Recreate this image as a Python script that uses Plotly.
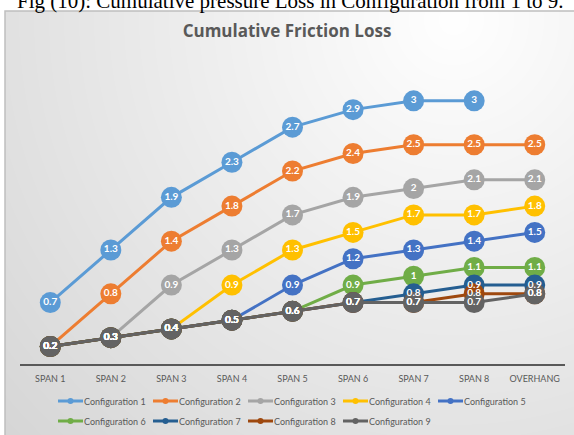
import base64
import struct
import zlib

import numpy as np
import plotly.graph_objects as go

# ---- data -------------------------------------------------------------
categories = ["SPAN 1", "SPAN 2", "SPAN 3", "SPAN 4", "SPAN 5",
              "SPAN 6", "SPAN 7", "SPAN 8", "OVERHANG"]

config_1 = [0.7, 1.3, 1.9, 2.3, 2.7, 2.9, 3.0, 3.0, None]
config_2 = [0.2, 0.8, 1.4, 1.8, 2.2, 2.4, 2.5, 2.5, 2.5]
config_3 = [0.2, 0.3, 0.9, 1.3, 1.7, 1.9, 2.0, 2.1, 2.1]
config_4 = [0.2, 0.3, 0.4, 0.9, 1.3, 1.5, 1.7, 1.7, 1.8]
config_5 = [0.2, 0.3, 0.4, 0.5, 0.9, 1.2, 1.3, 1.4, 1.5]
config_6 = [0.2, 0.3, 0.4, 0.5, 0.6, 0.9, 1.0, 1.1, 1.1]
config_7 = [0.2, 0.3, 0.4, 0.5, 0.6, 0.7, 0.8, 0.9, 0.9]
config_8 = [0.2, 0.3, 0.4, 0.5, 0.6, 0.7, 0.7, 0.8, 0.8]
config_9 = [0.2, 0.3, 0.4, 0.5, 0.6, 0.7, 0.7, 0.7, 0.8]

series_names = ["Configuration 1", "Configuration 2", "Configuration 3",
                "Configuration 4", "Configuration 5", "Configuration 6",
                "Configuration 7", "Configuration 8", "Configuration 9"]
series_values = [config_1, config_2, config_3, config_4, config_5,
                 config_6, config_7, config_8, config_9]
series_colors = ["#5B9BD5", "#ED7D31", "#A5A5A5", "#FFC000", "#4472C4",
                 "#70AD47", "#255E91", "#9E480E", "#636363"]

chart_title = "Cumulative Friction Loss"
caption = "Fig (10): Cumulative pressure Loss in Configuration from 1 to 9."

# ---- page geometry (pixels) -------------------------------------------
W, H = 574, 435
M_L, M_R, M_T, M_B = 20, 9, 57, 71
PLOT_W = W - M_L - M_R
PLOT_H = H - M_T - M_B


def px_x(p):
    return (p - M_L) / PLOT_W


def px_y(p):
    return (H - M_B - p) / PLOT_H


# ---- soft radial background for the chart box -------------------------
BOX_X0, BOX_Y0, BOX_X1, BOX_Y1 = 5, 11, 580, 440


def png_uri(rgb):
    h, w, _ = rgb.shape
    raw = b"".join(b"\x00" + rgb[r].tobytes() for r in range(h))

    def chunk(tag, data):
        return (struct.pack(">I", len(data)) + tag + data
                + struct.pack(">I", zlib.crc32(tag + data) & 0xFFFFFFFF))

    png = (b"\x89PNG\r\n\x1a\n"
           + chunk(b"IHDR", struct.pack(">IIBBBBB", w, h, 8, 2, 0, 0, 0))
           + chunk(b"IDAT", zlib.compress(raw, 9))
           + chunk(b"IEND", b""))
    return "data:image/png;base64," + base64.b64encode(png).decode()


gw, gh = BOX_X1 - BOX_X0, BOX_Y1 - BOX_Y0
yy, xx = np.mgrid[0:gh, 0:gw]
cx, cy = 0.78 * gw, 0.02 * gh
dist = np.sqrt((xx - cx) ** 2 + (yy - cy) ** 2)
t = np.clip(dist / np.sqrt(cx ** 2 + (gh - cy) ** 2), 0, 1)
shade = (255 - t * (255 - 214)).astype(np.uint8)
bg = np.dstack([shade, shade, shade])

fig = go.Figure()

# lines and circular markers
for name, vals, col in zip(series_names, series_values, series_colors):
    fig.add_trace(go.Scatter(
        x=categories, y=vals, name=name,
        mode="lines+markers",
        line=dict(color=col, width=3),
        marker=dict(color=col, size=21),
        showlegend=False, cliponaxis=False, hoverinfo="skip",
    ))

# value labels, drawn above every marker
for name, vals in zip(series_names, series_values):
    fig.add_trace(go.Scatter(
        x=categories, y=vals, name=name, mode="text",
        text=[("%g" % v) if v is not None else "" for v in vals],
        textposition="middle center",
        textfont=dict(family="Lato", size=10, color="white", weight="bold"),
        showlegend=False, cliponaxis=False, hoverinfo="skip",
    ))

# ---- legend: two rows, five entries per row ----------------------------
LEG_X0, LEG_Y0, LEG_DX, LEG_DY, LEG_LINE = 58, 401, 95, 20, 25
shapes = [dict(type="rect", xref="paper", yref="paper",
               x0=px_x(BOX_X0), x1=px_x(BOX_X1),
               y0=px_y(BOX_Y1), y1=px_y(BOX_Y0),
               line=dict(color="#BFBFBF", width=1.5), layer="below")]
annotations = [dict(text=caption, xref="paper", yref="paper",
                    x=px_x(15), xanchor="left",
                    y=px_y(1.5), yanchor="middle", showarrow=False,
                    font=dict(family="Liberation Serif", size=21,
                              color="black"))]
for i, (name, col) in enumerate(zip(series_names, series_colors)):
    lx = LEG_X0 + LEG_DX * (i % 5)
    ly = LEG_Y0 + LEG_DY * (i // 5)
    shapes.append(dict(type="line", xref="paper", yref="paper",
                       x0=px_x(lx), x1=px_x(lx + LEG_LINE),
                       y0=px_y(ly), y1=px_y(ly),
                       line=dict(color=col, width=3)))
    mx = lx + LEG_LINE / 2
    shapes.append(dict(type="circle", xref="paper", yref="paper",
                       x0=px_x(mx - 3), x1=px_x(mx + 3),
                       y0=px_y(ly + 3), y1=px_y(ly - 3),
                       fillcolor=col, line=dict(width=0)))
    annotations.append(dict(text=name, xref="paper", yref="paper",
                            x=px_x(lx + LEG_LINE), xanchor="left",
                            y=px_y(ly), yanchor="middle", showarrow=False,
                            borderpad=0,
                            font=dict(family="Lato", size=9,
                                      color="#595959")))

fig.update_layout(
    width=W, height=H,
    margin=dict(l=M_L, r=M_R, t=M_T, b=M_B, autoexpand=False),
    paper_bgcolor="white", plot_bgcolor="rgba(0,0,0,0)",
    font=dict(family="Lato", color="#595959"),
    showlegend=False,
    title=dict(text="<b>" + chart_title + "</b>", x=0.5, xanchor="center",
               y=1 - 31 / H, yanchor="middle",
               font=dict(family="Open Sans", size=17, color="#595959")),
    xaxis=dict(range=[-0.5, 8.5], showgrid=False, zeroline=False,
               showline=True, linecolor="#595959", linewidth=2,
               ticks="", ticklabelstandoff=5,
               tickfont=dict(size=9, color="#595959"),
               fixedrange=True),
    yaxis=dict(range=[0, 3.5], visible=False, fixedrange=True),
    images=[dict(source=png_uri(bg), xref="paper", yref="paper",
                 x=px_x(BOX_X0), y=px_y(BOX_Y0),
                 sizex=px_x(BOX_X1) - px_x(BOX_X0),
                 sizey=px_y(BOX_Y0) - px_y(BOX_Y1),
                 xanchor="left", yanchor="top", sizing="stretch",
                 layer="below")],
    shapes=shapes,
    annotations=annotations,
)

fig.write_html("out.html")
